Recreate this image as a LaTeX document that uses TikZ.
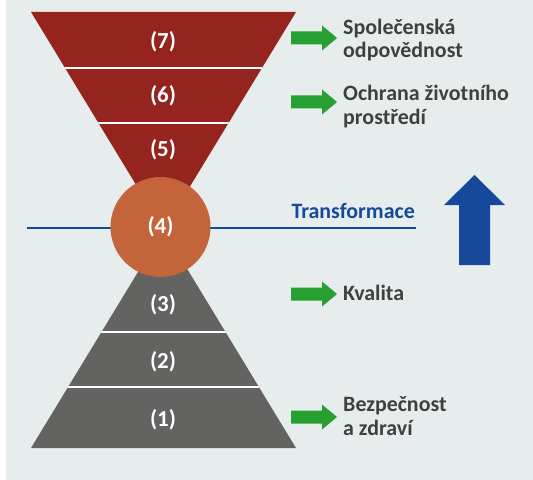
\documentclass[tikz,border=0pt]{standalone}
\usepackage{fontspec}
\setmainfont{Carlito}
\definecolor{bgcol}{HTML}{E7EDED}
\definecolor{funred}{HTML}{95241F}
\definecolor{pyrgrey}{HTML}{636362}
\definecolor{coreorange}{HTML}{C4643A}
\definecolor{transblue}{HTML}{17499B}
\definecolor{arrgreen}{HTML}{27A032}
\definecolor{txtgrey}{HTML}{404040}

\begin{document}
\begin{tikzpicture}[x=1bp,y=-1bp]
\tikzset{every node/.style={inner sep=0pt, font=\bfseries\fontsize{22}{24}\selectfont},
  num/.style={text=white, font=\bfseries\fontsize{23}{24}\selectfont},
  lbl/.style={anchor=west, align=left, text=txtgrey},
  sepline/.style={white, line width=1.5bp}}
\useasboundingbox (0,0) rectangle (533,480);
\fill [bgcol] (6,0) rectangle (533,480);
% funnel (top) and pyramid (bottom)
\fill [funred] (31,12) -- (296,12) -- (163.5,230) -- cycle;
\fill [pyrgrey] (31,448) -- (296,448) -- (163.5,230) -- cycle;
\begin{scope}
\clip (31,12) -- (296,12) -- (163.5,230) -- (296,448) -- (31,448) -- (163.5,230) -- cycle;
\foreach \y in {68,123,332,387}
  \draw [sepline] (20,\y) -- (310,\y);
\end{scope}
% transformation line
\coordinate (lineL) at (27,228);
\coordinate (lineR) at (416,228);
\draw [transblue, line width=2bp] (lineL) -- (lineR);
\node [circle, fill=coreorange, minimum size=100bp, num] (c4) at (160.5,227) {(4)};
\node [anchor=east, text=transblue] (trans) at (415,211) {Transformace};
% levels
\node [num] (l7) at (163,42) {(7)};
\node [num] (l6) at (163,96) {(6)};
\node [num] (l5) at (163,150) {(5)};
\node [num] (l3) at (163,305) {(3)};
\node [num] (l2) at (163,362) {(2)};
\node [num] (l1) at (163,420) {(1)};
% green arrows
\foreach \y in {38,102,294,417}
  \fill [arrgreen] (291,{\y-6.5}) -- (322,{\y-6.5}) -- (322,{\y-12.5}) -- (337,\y)
    -- (322,{\y+12.5}) -- (322,{\y+6.5}) -- (291,{\y+6.5}) -- cycle;
% labels
\node [lbl] (t7) at (343,40) {Společenská\\odpovědnost};
\node [lbl] (t6) at (343,106.5) {Ochrana životního\\prostředí};
\node [lbl] (t3) at (343,293) {Kvalita};
\node [lbl] (t1) at (343,416.5) {Bezpečnost\\a zdraví};
% blue arrow
\fill [transblue] (459,265) -- (459,205) -- (444,205) -- (474.5,175) -- (505,205)
  -- (490,205) -- (490,265) -- cycle;
\end{tikzpicture}
\end{document}
